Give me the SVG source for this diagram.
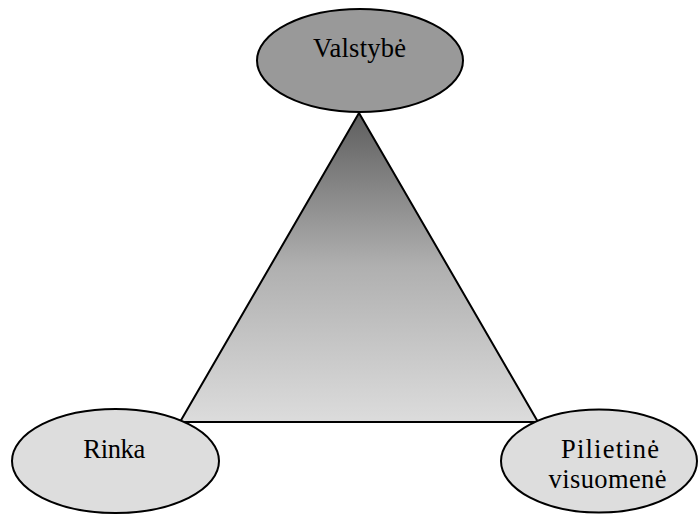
<svg xmlns="http://www.w3.org/2000/svg" width="699" height="514" viewBox="0 0 699 514">
<defs>
<linearGradient id="tri" x1="0" y1="0" x2="0" y2="1">
<stop offset="0" stop-color="#5e5e5e"/>
<stop offset="0.5" stop-color="#b0b0b0"/>
<stop offset="1" stop-color="#dcdcdc"/>
</linearGradient>
<style>
.el{stroke:#000;stroke-width:2}
.t{font-family:"Liberation Serif","Times New Roman",serif;font-size:26.5px;fill:#000;text-anchor:middle}
</style>
</defs>
<rect width="699" height="514" fill="#fff"/>
<g id="connectors">
<polygon points="359,113 180,422 538,422" fill="url(#tri)" stroke="#000" stroke-width="2" stroke-linejoin="miter"/>
</g>
<g id="valstybe">
<ellipse class="el" cx="360" cy="60.5" rx="103" ry="51.5" fill="#999999"/>
<text class="t" x="359.5" y="56.7" textLength="93">Valstybė</text>
</g>
<g id="rinka">
<ellipse class="el" cx="115.5" cy="461" rx="103.5" ry="52" fill="#dddddd"/>
<text class="t" x="114.3" y="458.3" textLength="62">Rinka</text>
</g>
<g id="pilietine">
<ellipse class="el" cx="599" cy="461" rx="98" ry="51.5" fill="#dddddd"/>
<text class="t" x="610" y="458.3" textLength="98">Pilietinė</text>
<text class="t" x="607.5" y="487.5" textLength="118">visuomenė</text>
</g>
</svg>
